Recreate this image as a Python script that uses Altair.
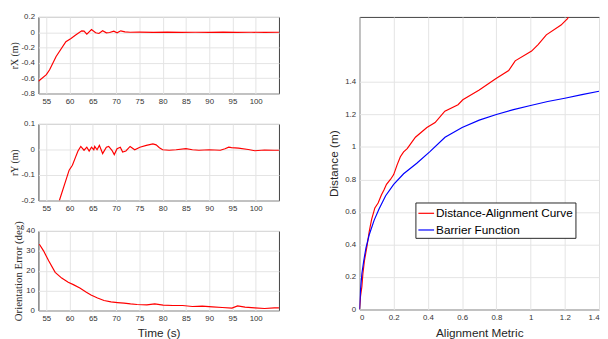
import altair as alt
import pandas as pd

# ---- data ----
t_x = [53.3, 55.0, 55.7, 57.1, 59.2, 60.3, 61.3, 62.6, 63.1, 63.7, 64.2, 64.7, 65.6, 66.3, 67.1,
       67.9, 68.6, 69.5, 70.2, 71.0, 71.9, 73.0, 75.0, 78.0, 81.0, 84.0, 87.0, 90.0, 93.0, 96.0,
       99.0, 102.0, 105.0]
r_x = [-0.64, -0.554, -0.49, -0.317, -0.123, -0.08, -0.037, 0.019, 0.015, -0.024, 0.006, 0.036,
       -0.007, -0.016, 0.019, -0.007, -0.003, 0.015, -0.007, 0.019, 0.006, 0.0, 0.002, -0.002,
       0.001, -0.001, 0.0, -0.002, 0.001, -0.002, 0.0, -0.001, 0.0]

t_y = [57.8, 59.9, 60.6, 61.3, 61.8, 62.4, 63.1, 63.7, 64.2, 64.7, 65.2, 65.4, 65.9, 66.4, 67.1,
       67.9, 68.4, 69.1, 69.6, 70.2, 70.9, 71.4, 72.1, 73.0, 74.0, 75.1, 76.5, 77.9, 78.6, 79.3,
       80.0, 81.4, 82.9, 85.0, 86.4, 87.8, 90.0, 92.4, 93.4, 94.2, 94.8, 96.3, 98.4, 99.8, 101.9,
       104.0, 105.0]
r_y = [-0.2, -0.081, -0.062, -0.029, -0.006, 0.012, -0.003, 0.009, -0.006, 0.009, -0.001, 0.012,
       -0.001, 0.016, -0.016, 0.009, 0.012, -0.003, -0.02, 0.003, 0.009, -0.01, -0.006, 0.012,
       -0.001, 0.009, 0.016, 0.022, 0.018, 0.007, -0.001, -0.003, -0.001, 0.003, -0.001, -0.003,
       -0.001, -0.003, 0.003, 0.009, 0.007, 0.005, 0.0, -0.005, -0.002, -0.003, -0.003]

t_o = [53.5, 54.4, 55.5, 56.9, 58.3, 59.7, 60.8, 62.2, 63.6, 64.6, 66.0, 67.4, 68.9, 70.3, 71.7,
       73.1, 74.5, 76.6, 78.3, 80.1, 82.2, 84.3, 86.4, 88.5, 90.7, 92.8, 94.9, 96.1, 97.7, 99.8,
       101.9, 104.0, 105.0]
o_err = [33.3, 30.0, 25.0, 19.2, 16.3, 14.2, 13.0, 11.3, 9.2, 7.8, 6.3, 5.0, 4.3, 4.0, 3.7,
         3.3, 3.0, 2.8, 3.3, 2.7, 2.5, 2.5, 2.0, 2.2, 1.8, 1.5, 1.2, 2.3, 1.7, 1.3, 1.0, 1.3, 1.3]

align_red = [0.0, 0.006, 0.014, 0.02, 0.029, 0.044, 0.057, 0.071, 0.09, 0.109, 0.128, 0.143,
             0.158, 0.181, 0.2, 0.22, 0.239, 0.258, 0.279, 0.327, 0.394, 0.442, 0.499, 0.576,
             0.604, 0.70, 0.796, 0.872, 0.91, 1.006, 1.044, 1.092, 1.178, 1.216, 1.235]
dist_red = [0.0, 0.08, 0.14, 0.22, 0.30, 0.39, 0.48, 0.555, 0.625, 0.655, 0.705, 0.735, 0.77,
            0.80, 0.83, 0.89, 0.94, 0.97, 0.99, 1.06, 1.12, 1.15, 1.22, 1.26, 1.29, 1.35, 1.42,
            1.47, 1.53, 1.59, 1.63, 1.69, 1.75, 1.79, 1.83]

align_blue = [0.0, 0.006, 0.014, 0.025, 0.038, 0.057, 0.086, 0.115, 0.153, 0.2, 0.258, 0.335,
              0.41, 0.5, 0.6, 0.7, 0.8, 0.9, 1.0, 1.1, 1.2, 1.3, 1.4]
dist_blue = [0.0, 0.12, 0.22, 0.30, 0.38, 0.46, 0.55, 0.62, 0.70, 0.77, 0.835, 0.90, 0.97,
             1.06, 1.12, 1.165, 1.20, 1.23, 1.255, 1.28, 1.30, 1.322, 1.343]

series_names = ["Distance-Alignment Curve", "Barrier Function"]
series_colors = ["#ff0000", "#0000ff"]
time_ticks = [55, 60, 65, 70, 75, 80, 85, 90, 95, 100]

FONT = "Liberation Sans"
SERIF = "Liberation Serif"
LBL = "(datum.value < 0 ? '-' : '') + format(abs(datum.value), '.1~f')"

df1 = pd.DataFrame({"t": t_x, "v": r_x})
df2 = pd.DataFrame({"t": t_y, "v": r_y})
df3 = pd.DataFrame({"t": t_o, "v": o_err})
dfr = pd.concat([
    pd.DataFrame({"a": align_red, "d": dist_red, "s": series_names[0], "i": range(len(align_red))}),
    pd.DataFrame({"a": align_blue, "d": dist_blue, "s": series_names[1], "i": range(len(align_blue))}),
])


def time_x(title=None):
    return alt.X("t:Q", scale=alt.Scale(domain=[53.3, 105], nice=False, zero=False),
                 axis=alt.Axis(values=time_ticks, title=title, labelPadding=4,
                               titleFontSize=12, titlePadding=6))


def left_panel(df, ytitle, dom, vals, h, xtitle=None, fmt=LBL, tsize=10):
    return alt.Chart(df).mark_line(color="#ff0000", strokeWidth=1.2, clip=True).encode(
        x=time_x(xtitle),
        y=alt.Y("v:Q", scale=alt.Scale(domain=dom, nice=False, zero=False),
                axis=alt.Axis(values=vals, title=ytitle, labelExpr=fmt, titleFont=SERIF,
                              titleFontSize=tsize, titlePadding=2, labelPadding=4)),
    ).properties(width=245, height=h)


p1 = left_panel(df1, "rX (m)", [-0.8, 0.2], [-0.8, -0.6, -0.4, -0.2, 0, 0.2], 78)
p2 = left_panel(df2, "rY (m)", [-0.2, 0.1], [-0.2, -0.1, 0, 0.1], 78)
p3 = left_panel(df3, "Orientation Error (deg)", [0, 40], [0, 10, 20, 30, 40], 81,
                xtitle="Time (s)", fmt="format(datum.value, 'd')", tsize=11)

left = alt.vconcat(p1, p2, p3, spacing=31, bounds="flush")

right = alt.Chart(dfr).mark_line(strokeWidth=1.2, clip=True).encode(
    x=alt.X("a:Q", scale=alt.Scale(domain=[0, 1.4], nice=False),
            axis=alt.Axis(values=[0, 0.2, 0.4, 0.6, 0.8, 1.0, 1.2, 1.4], title="Alignment Metric",
                          labelExpr=LBL, labelPadding=4, titleFontSize=12, titlePadding=6)),
    y=alt.Y("d:Q", scale=alt.Scale(domain=[0, 1.8], nice=False),
            axis=alt.Axis(values=[0, 0.2, 0.4, 0.6, 0.8, 1.0, 1.2, 1.4], title="Distance (m)",
                          labelExpr=LBL, labelPadding=4, titleFontSize=12, titlePadding=4)),
    color=alt.Color("s:N", scale=alt.Scale(domain=series_names, range=series_colors),
                    legend=alt.Legend(orient="none", legendX=384, legendY=189, title=None,
                                      symbolType="stroke", symbolSize=256, symbolStrokeWidth=1.2,
                                      labelFont=FONT, labelFontSize=12, labelColor="#000000",
                                      strokeColor="#262626", fillColor="white", padding=2,
                                      rowPadding=2, labelOffset=1)),
    order=alt.Order("i:Q"),
).properties(width=244, height=298)

chart = alt.hconcat(left, right, spacing=48).properties(
    padding={"left": 0, "top": 1, "right": 0, "bottom": 0}
).configure_view(stroke="#404040", strokeWidth=1).configure_axis(
    grid=True, gridColor="#e3e3e3", gridWidth=1, domain=False, ticks=False,
    labelFont=FONT, labelFontSize=8, labelColor="#333333",
    titleFont=FONT, titleFontWeight="normal", titleColor="#262626",
)

chart.save("out.html", embed_options={"renderer": "svg", "actions": False})
